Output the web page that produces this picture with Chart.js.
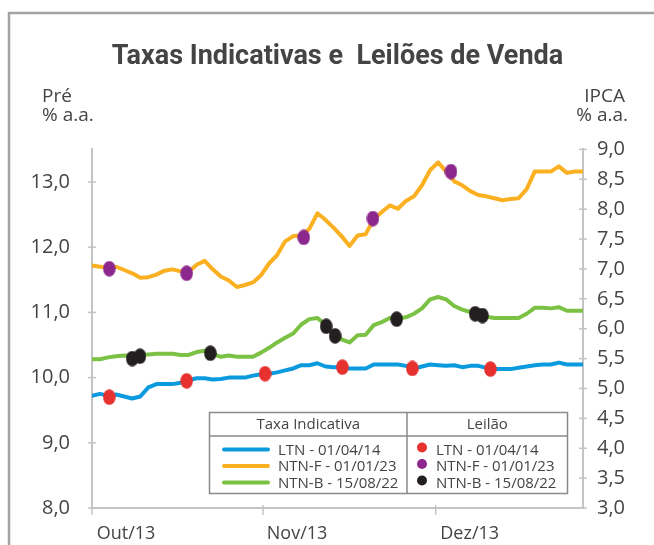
<!DOCTYPE html>
<html lang="pt-BR">
<head>
<meta charset="utf-8">
<title>Taxas Indicativas e Leilões de Venda</title>
<script src="https://cdn.jsdelivr.net/npm/chart.js@4.4.1/dist/chart.umd.min.js"></script>
<style>
  html, body { margin: 0; padding: 0; background: #fff; overflow: hidden; }
  #wrap { width: 654px; height: 545px; position: relative; }
</style>
</head>
<body>
<div id="wrap"><canvas id="grafico" width="654" height="545"></canvas></div>
<script>
// Eixo x: dia útil (0 = início de outubro/13)
const meses = ['Out/13', 'Nov/13', 'Dez/13'];
const posMeses = [0, 21.25, 42.7];

// Taxas indicativas (% a.a.)
const ltn = [9.72, 9.75, 9.72, 9.74, 9.71, 9.68, 9.71, 9.85, 9.90, 9.90,
  9.90, 9.92, 9.96, 9.99, 9.99, 9.97, 9.98, 10.00, 10.00, 10.00,
  10.03, 10.05, 10.06, 10.08, 10.11, 10.14, 10.19, 10.19, 10.22, 10.17,
  10.16, 10.16, 10.14, 10.14, 10.14, 10.20, 10.20, 10.20, 10.20, 10.18,
  10.14, 10.17, 10.20, 10.19, 10.18, 10.19, 10.16, 10.18, 10.18, 10.15,
  10.13, 10.13, 10.13, 10.15, 10.17, 10.19, 10.20, 10.20, 10.23, 10.20,
  10.20, 10.20];
const ntnf = [11.72, 11.70, 11.68, 11.70, 11.65, 11.60, 11.53, 11.54, 11.58, 11.64,
  11.66, 11.63, 11.62, 11.73, 11.79, 11.66, 11.55, 11.49, 11.39, 11.42,
  11.46, 11.57, 11.75, 11.88, 12.09, 12.17, 12.18, 12.28, 12.52, 12.42,
  12.30, 12.17, 12.02, 12.18, 12.20, 12.43, 12.54, 12.64, 12.59, 12.71,
  12.78, 12.95, 13.18, 13.30, 13.16, 13.01, 12.95, 12.86, 12.80, 12.78,
  12.75, 12.72, 12.74, 12.75, 12.89, 13.16, 13.16, 13.16, 13.24, 13.14,
  13.16, 13.16];
const ntnb = [5.49, 5.49, 5.52, 5.54, 5.55, 5.54, 5.56, 5.57, 5.58, 5.58,
  5.58, 5.56, 5.56, 5.61, 5.63, 5.58, 5.53, 5.55, 5.53, 5.53,
  5.53, 5.60, 5.68, 5.77, 5.85, 5.92, 6.07, 6.16, 6.18, 6.07,
  5.90, 5.82, 5.77, 5.89, 5.90, 6.06, 6.11, 6.18, 6.17, 6.19,
  6.25, 6.34, 6.49, 6.53, 6.49, 6.38, 6.32, 6.28, 6.23, 6.20,
  6.18, 6.18, 6.18, 6.18, 6.25, 6.35, 6.35, 6.34, 6.36, 6.30,
  6.30, 6.30];

// Leilões: dia e taxa
const leilaoLtnDia = [2.15, 11.76, 21.5, 31.1, 39.8, 49.5];
const leilaoLtnTaxa = [9.70, 9.95, 10.06, 10.16, 10.14, 10.13];
const leilaoNtnfDia = [2.15, 11.76, 26.3, 34.9, 44.6];
const leilaoNtnfTaxa = [11.67, 11.60, 12.15, 12.44, 13.16];
const leilaoNtnbDia = [5.0, 5.96, 14.7, 29.1, 30.2, 37.85, 47.6, 48.5];
const leilaoNtnbTaxa = [5.50, 5.54, 5.59, 6.04, 5.88, 6.16, 6.25, 6.22];

const AZUL = '#0b9ade', LARANJA = '#fbb021', VERDE = '#7bc143';
const VERMELHO = '#e6312f', ROXO = '#8c278e', PRETO = '#231f20';
const TEXTO = '#444444', EIXO = '#c4c4c4';

const serie = vals => vals.map((v, i) => ({ x: i, y: v }));
const pontos = (dias, taxas) => dias.map((d, i) => ({ x: d, y: taxas[i] }));

// marcador oval (os pontos do original são elipses verticais)
function oval(cor) {
  const c = document.createElement('canvas');
  c.width = 13; c.height = 16;
  const g = c.getContext('2d');
  g.fillStyle = cor;
  g.beginPath();
  g.ellipse(6.5, 8, 6.3, 7.8, 0, 0, Math.PI * 2);
  g.fill();
  return c;
}

const linha = (label, vals, cor, eixo) => ({
  type: 'line', label, data: serie(vals), borderColor: cor, backgroundColor: cor,
  borderWidth: 4, pointRadius: 0, tension: 0, yAxisID: eixo, order: 2,
  borderJoinStyle: 'round', borderCapStyle: 'round'
});
const leilao = (label, dias, taxas, cor, eixo) => ({
  type: 'scatter', label, data: pontos(dias, taxas), backgroundColor: cor, borderColor: cor,
  pointStyle: oval(cor), pointRadius: 7, yAxisID: eixo, order: 1, leilao: true
});

// moldura, rótulos das unidades, marcas dos eixos e legenda em tabela
const extras = {
  id: 'extras',
  beforeDraw(chart) {
    const ctx = chart.ctx;
    ctx.save();
    ctx.fillStyle = '#fff';
    ctx.fillRect(0, 0, chart.width, chart.height);
    ctx.strokeStyle = '#a3a3a3';
    ctx.lineWidth = 2.5;
    ctx.strokeRect(9, 13, 700, 600);
    ctx.restore();
  },
  afterDraw(chart) {
    const { ctx, scales } = chart;
    ctx.save();
    ctx.fillStyle = TEXTO;
    ctx.font = '19px "Open Sans"';
    ctx.textBaseline = 'middle';
    ctx.textAlign = 'left';
    ctx.fillText('Pré', 42, 97);
    ctx.fillText('% a.a.', 42, 116);
    ctx.textAlign = 'right';
    ctx.fillText('IPCA', 625, 97);
    ctx.fillText('% a.a.', 628, 116);

    ctx.strokeStyle = EIXO;
    ctx.lineWidth = 1.5;
    const seg = (x1, y1, x2, y2) => { ctx.beginPath(); ctx.moveTo(x1, y1); ctx.lineTo(x2, y2); ctx.stroke(); };
    const sp = scales.yPre, si = scales.yIpca, sx = scales.x;
    sp.ticks.forEach((t, i) => { const y = sp.getPixelForTick(i); seg(sp.right - 4, y, sp.right + 4, y); });
    si.ticks.forEach((t, i) => { const y = si.getPixelForTick(i); seg(si.left - 4, y, si.left + 4, y); });
    sx.ticks.forEach((t, i) => { const x = sx.getPixelForTick(i); seg(x, sx.top - 3, x, sx.top + 7); });

    // legenda
    const bx = 209.5, by = 412.5, bw = 358, bh = 81, meio = 407, cab = 436;
    ctx.fillStyle = '#fff';
    ctx.fillRect(bx, by, bw, bh);
    ctx.strokeStyle = '#8a8a8a';
    ctx.lineWidth = 1.5;
    ctx.strokeRect(bx, by, bw, bh);
    seg(bx, cab, bx + bw, cab);
    seg(meio, by, meio, by + bh);
    ctx.fillStyle = TEXTO;
    ctx.font = '15px "Open Sans"';
    ctx.textAlign = 'center';
    ctx.fillText('Taxa Indicativa', (bx + meio) / 2, 425);
    ctx.fillText('Leilão', (meio + bx + bw) / 2, 425);
    ctx.textAlign = 'left';
    const ds = chart.data.datasets;
    const linhas = ds.filter(d => !d.leilao);
    const bolas = ds.filter(d => d.leilao);
    const ys = [449.5, 466, 482.5];
    linhas.forEach((d, i) => {
      ctx.strokeStyle = d.borderColor;
      ctx.lineWidth = 4;
      ctx.lineCap = 'round';
      seg(224, ys[i], 268, ys[i]);
      ctx.fillText(d.label, 278, ys[i] + 1);
    });
    bolas.forEach((d, i) => {
      ctx.fillStyle = d.backgroundColor;
      ctx.beginPath();
      ctx.arc(422, ys[i] - 2, 5, 0, Math.PI * 2);
      ctx.fill();
      ctx.fillStyle = TEXTO;
      ctx.fillText(d.label, 436, ys[i] + 1);
    });
    ctx.restore();
  }
};

const virgula = v => v.toFixed(1).replace('.', ',');

new Chart(document.getElementById('grafico'), {
  data: {
    datasets: [
      linha('LTN - 01/04/14', ltn, AZUL, 'yPre'),
      linha('NTN-F - 01/01/23', ntnf, LARANJA, 'yPre'),
      linha('NTN-B - 15/08/22', ntnb, VERDE, 'yIpca'),
      leilao('LTN - 01/04/14', leilaoLtnDia, leilaoLtnTaxa, VERMELHO, 'yPre'),
      leilao('NTN-F - 01/01/23', leilaoNtnfDia, leilaoNtnfTaxa, ROXO, 'yPre'),
      leilao('NTN-B - 15/08/22', leilaoNtnbDia, leilaoNtnbTaxa, PRETO, 'yIpca')
    ]
  },
  options: {
    responsive: false,
    animation: false,
    devicePixelRatio: 1,
    layout: { padding: 0 },
    plugins: {
      legend: { display: false },
      tooltip: { enabled: false },
      title: {
        display: true,
        fullSize: false,
        text: 'Taxas Indicativas e  Leilões de Venda',
        color: TEXTO,
        font: { family: '"Liberation Sans Narrow", "Roboto", sans-serif', size: 27, weight: 'bold' },
        padding: { top: 41, bottom: 76 }
      }
    },
    scales: {
      x: {
        type: 'linear', min: 0, max: 61,
        grid: { display: false },
        border: { display: true, color: EIXO, width: 2 },
        afterBuildTicks: s => { s.ticks = posMeses.map(v => ({ value: v })); },
        afterFit: s => { s.height = 37; },
        ticks: {
          color: TEXTO, font: { family: '"Open Sans"', size: 18 }, padding: 7,
          labelOffset: 34, maxRotation: 0, autoSkip: false,
          callback: (v, i) => meses[i]
        }
      },
      yPre: {
        type: 'linear', position: 'left', min: 8, max: 13.5,
        grid: { display: false },
        border: { display: true, color: EIXO, width: 2 },
        afterFit: s => { s.width = 92; },
        ticks: {
          stepSize: 1, includeBounds: false, color: TEXTO,
          font: { family: '"Open Sans"', size: 20 }, padding: 14,
          callback: virgula
        }
      },
      yIpca: {
        type: 'linear', position: 'right', min: 3, max: 9,
        grid: { display: false },
        border: { display: true, color: EIXO, width: 2 },
        afterFit: s => { s.width = 71; },
        ticks: {
          stepSize: 0.5, color: TEXTO,
          font: { family: '"Open Sans"', size: 20 }, padding: 6,
          callback: virgula
        }
      }
    }
  },
  plugins: [extras]
});
</script>
</body>
</html>
